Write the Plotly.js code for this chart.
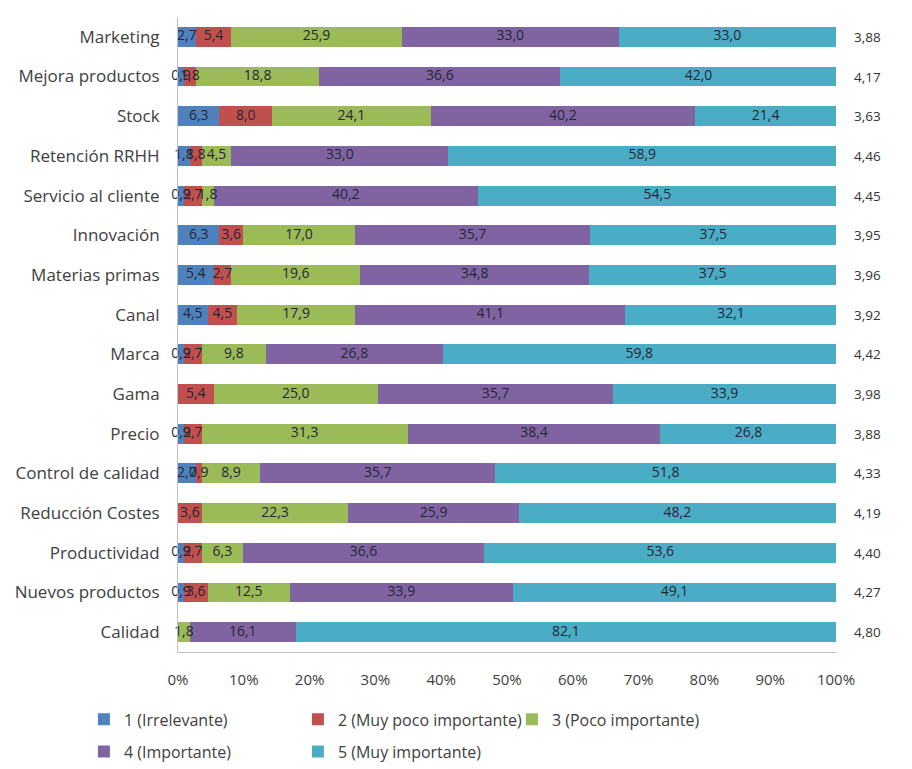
<!DOCTYPE html>
<html>
<head>
<meta charset="utf-8">
<script src="https://cdn.plot.ly/plotly-3.0.1.min.js"></script>
<style>html,body{margin:0;padding:0;background:#fff;}#chart{width:912px;height:769px;}</style>
</head>
<body>
<div id="chart"></div>
<script>
const categories = ["Marketing","Mejora productos","Stock","Retención RRHH","Servicio al cliente","Innovación","Materias primas","Canal","Marca","Gama","Precio","Control de calidad","Reducción Costes","Productividad","Nuevos productos","Calidad"];
const seriesNames = ["1 (Irrelevante)","2 (Muy poco importante)","3 (Poco importante)","4 (Importante)","5 (Muy importante)"];
const s1 = [2.7,0.9,6.3,1.8,0.9,6.3,5.4,4.5,0.9,0.0,0.9,2.7,0.0,0.9,0.9,0.0];
const s2 = [5.4,1.8,8.0,1.8,2.7,3.6,2.7,4.5,2.7,5.4,2.7,0.9,3.6,2.7,3.6,0.0];
const s3 = [25.9,18.8,24.1,4.5,1.8,17.0,19.6,17.9,9.8,25.0,31.3,8.9,22.3,6.3,12.5,1.8];
const s4 = [33.0,36.6,40.2,33.0,40.2,35.7,34.8,41.1,26.8,35.7,38.4,35.7,25.9,36.6,33.9,16.1];
const s5 = [33.0,42.0,21.4,58.9,54.5,37.5,37.5,32.1,59.8,33.9,26.8,51.8,48.2,53.6,49.1,82.1];
const means = [3.88,4.17,3.63,4.46,4.45,3.95,3.96,3.92,4.42,3.98,3.88,4.33,4.19,4.40,4.27,4.80];
const colors = ["#4F81BD","#C0504D","#9BBB59","#8064A2","#4BACC6"];
const xTickVals = [0,10,20,30,40,50,60,70,80,90,100];
const xTickText = ["0%","10%","20%","30%","40%","50%","60%","70%","80%","90%","100%"];

const FONT = "'Open Sans', Lato, sans-serif";
const fmt = v => v.toFixed(1).replace('.', ',');
const allSeries = [s1,s2,s3,s4,s5];

const traces = allSeries.map((s,i) => ({
  type: 'bar',
  orientation: 'h',
  name: seriesNames[i],
  y: categories,
  x: s,
  marker: {color: colors[i]},
  hoverinfo: 'x+y+name',
  legend: i < 3 ? 'legend' : 'legend2'
}));

// data labels at the middle of each segment (computed from the series)
const starts = categories.map(() => 0);
allSeries.forEach((s,i) => {
  const xs = [], ys = [], ts = [];
  s.forEach((v,k) => {
    if (v > 0) { xs.push(starts[k] + v/2); ys.push(categories[k]); ts.push(fmt(v)); }
    starts[k] += v;
  });
  traces.push({
    type: 'scatter', mode: 'text', x: xs, y: ys, text: ts,
    textposition: 'middle center',
    textfont: {family: FONT, size: 14, color: '#262636'},
    showlegend: false, hoverinfo: 'skip', cliponaxis: false
  });
});

const annotations = categories.map((c,i) => ({
  xref: 'paper', yref: 'y',
  x: 1.024, y: c,
  xanchor: 'left', yanchor: 'middle',
  text: means[i].toFixed(2).replace('.', ','),
  showarrow: false,
  font: {family: FONT, size: 13.5, color: '#333'}
}));

const legendCommon = {
  orientation: 'h', xanchor: 'left', yanchor: 'top',
  xref: 'container', yref: 'container',
  entrywidth: 169, entrywidthmode: 'pixels', traceorder: 'normal',
  font: {family: FONT, size: 16, color: '#404040'},
  itemwidth: 30
};

const layout = {
  width: 912, height: 769,
  margin: {l: 178, r: 76, t: 17, b: 117, autoexpand: false},
  paper_bgcolor: '#fff', plot_bgcolor: '#fff',
  barmode: 'stack',
  bargap: 0.5,
  font: {family: FONT, size: 14, color: '#404040'},
  xaxis: {
    range: [0, 100], tickvals: xTickVals, ticktext: xTickText,
    showgrid: false, zeroline: false, showline: true, linecolor: '#bfbfbf', linewidth: 1,
    ticks: '', ticklen: 0, fixedrange: true, ticklabelstandoff: 14,
    tickfont: {family: FONT, size: 15, color: '#404040'}
  },
  yaxis: {
    range: [categories.length - 0.5, -0.5], autorange: false,
    showgrid: false, zeroline: false,
    showline: true, linecolor: '#bfbfbf', linewidth: 1,
    ticks: '', ticklen: 0, ticklabelstandoff: 14,
    tickfont: {family: FONT, size: 17, color: '#404040'}
  },
  showlegend: true,
  legend: Object.assign({x: 0.092, y: 0.0866}, legendCommon),
  legend2: Object.assign({x: 0.092, y: 0.0446}, legendCommon),
  annotations: annotations
};

Plotly.newPlot('chart', traces, layout, {displayModeBar: false, staticPlot: true});
</script>
</body>
</html>
